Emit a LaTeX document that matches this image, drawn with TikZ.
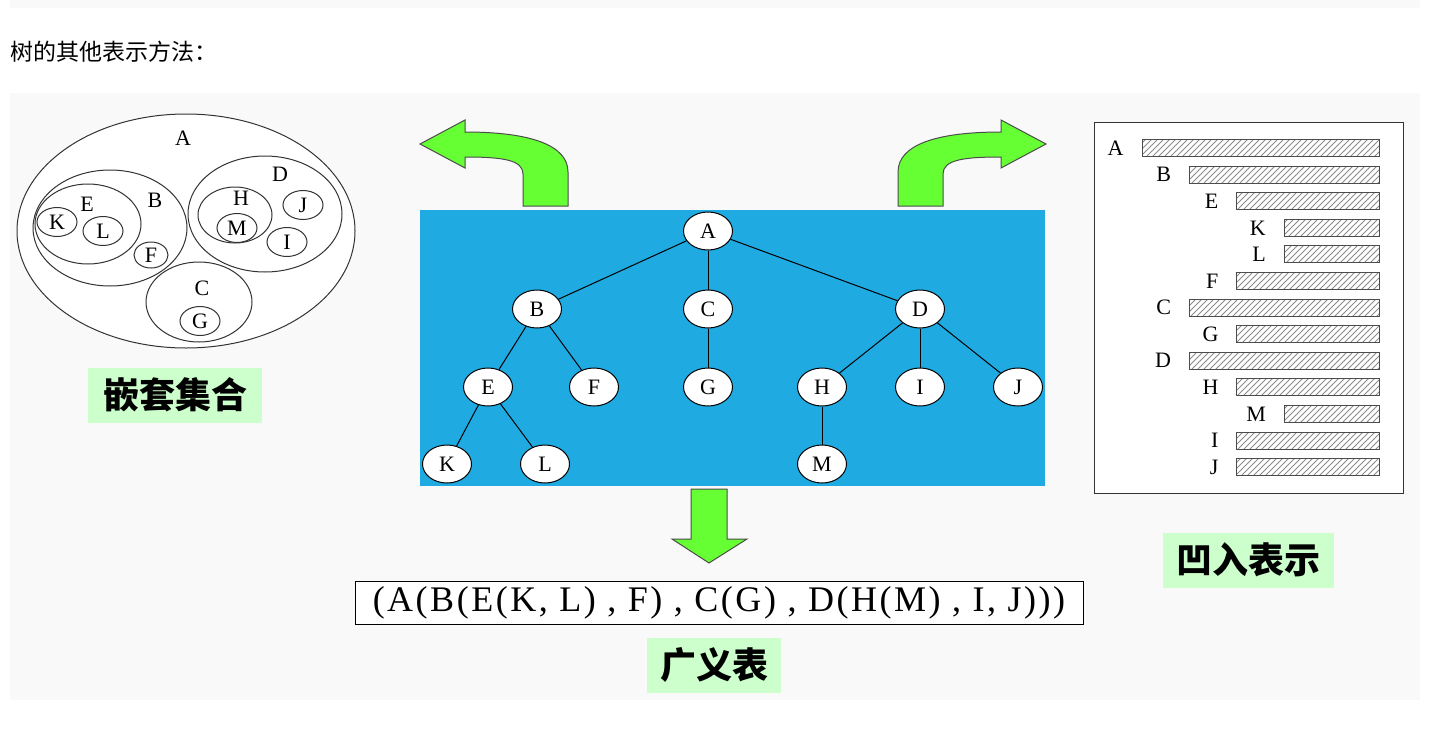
\documentclass[tikz,border=0pt]{standalone}
\usepackage{fontspec}
\setmainfont{Liberation Serif}
\newfontfamily\cjk{Noto Sans CJK SC}
\usetikzlibrary{shapes.geometric,patterns}
\definecolor{slidebg}{RGB}{249,249,249}
\definecolor{panelblue}{RGB}{31,171,226}
\definecolor{arrowgreen}{RGB}{102,255,51}
\definecolor{tagbg}{RGB}{204,255,204}

\begin{document}
\begin{tikzpicture}[
      x=0.5pt, y=-0.5pt,
      letter/.style={font=\fontsize{11}{11}\selectfont, inner sep=0pt},
      setring/.style={draw=black!80, line width=0.5pt},
      leaf/.style={draw=black!80, ellipse, line width=0.5pt, minimum width=20pt, minimum height=14.5pt, inner sep=0pt, font=\fontsize{11}{11}\selectfont},
      tnode/.style={draw, ellipse, fill=white, line width=0.5pt, minimum width=24.5pt, minimum height=19pt, inner sep=0pt, font=\fontsize{11}{11}\selectfont},
      edge/.style={line width=0.5pt},
      bendarrow/.style={fill=arrowgreen, draw=black!70, line width=0.5pt},
      bar/.style={draw=black!70, line width=0.5pt, pattern=north east lines, pattern color=black!45},
      tag/.style={fill=tagbg, font=\cjk\bfseries\fontsize{18}{18}\selectfont, minimum width=87pt, minimum height=27.5pt, inner sep=0pt}
  ]
      \useasboundingbox (0,0) rectangle (1456,739);
      \fill[slidebg] (10,0) rectangle (1420,8);
      \fill[slidebg] (10,93) rectangle (1420,700);

      \node[anchor=west, inner sep=0pt, font=\cjk\fontsize{11.5}{11.5}\selectfont] (title) at (10,52) {树的其他表示方法：};

      % nested sets
      \filldraw[setring, fill=white] (186,231) ellipse [x radius=84.5pt, y radius=58.5pt];
      \draw[setring] (110,228) ellipse [x radius=38.5pt, y radius=29pt];
      \draw[setring] (88,224) ellipse [x radius=26.5pt, y radius=20pt];
      \draw[setring] (265,214) ellipse [x radius=38.5pt, y radius=29pt];
      \draw[setring] (235,215) ellipse [x radius=18.5pt, y radius=14pt];
      \draw[setring] (199,302) ellipse [x radius=26.5pt, y radius=20pt];
      \node[letter] (sA) at (183,138) {A};
      \node[letter] (sB) at (155,200) {B};
      \node[letter] (sE) at (87,204) {E};
      \node[letter] (sD) at (280,174) {D};
      \node[letter] (sH) at (241,198) {H};
      \node[letter] (sC) at (202,288) {C};
      \node[leaf] (sK) at (57,222) {K};
      \node[leaf] (sL) at (103,231) {L};
      \node[leaf, minimum width=17pt, minimum height=13pt] (sF) at (151,255) {F};
      \node[leaf] (sM) at (237,228) {M};
      \node[leaf] (sJ) at (303,205) {J};
      \node[leaf] (sI) at (287,242) {I};
      \node[leaf] (sG) at (200,321) {G};
      \node[tag] (nestlbl) at (175,395) {嵌套集合};

      % tree
      \fill[panelblue] (420,210) rectangle (1045,486);
      \node[tnode] (tA) at (708,231) {A};
      \node[tnode] (tB) at (537,309) {B};
      \node[tnode] (tC) at (708,309) {C};
      \node[tnode] (tD) at (920,309) {D};
      \node[tnode] (tE) at (488,387) {E};
      \node[tnode] (tF) at (594,387) {F};
      \node[tnode] (tG) at (708,387) {G};
      \node[tnode] (tH) at (822,387) {H};
      \node[tnode] (tI) at (920,387) {I};
      \node[tnode] (tJ) at (1018,387) {J};
      \node[tnode] (tK) at (447,464) {K};
      \node[tnode] (tL) at (545,464) {L};
      \node[tnode] (tM) at (822,464) {M};
      \foreach \p/\c in {A/B, A/C, A/D, B/E, B/F, C/G, D/H, D/I, D/J, E/K, E/L, H/M}
        \draw[edge] (t\p) -- (t\c);

      \filldraw[bendarrow] (568,206) -- (568,172) .. controls (568,145) and (530,132) .. (465,132)
        -- (465,120) -- (420,144) -- (465,168) -- (465,157)
        .. controls (503,157) and (523,160) .. (523,174) -- (523,206) -- cycle;
      \filldraw[bendarrow] (898,206) -- (898,172) .. controls (898,145) and (936,132) .. (1001,132)
        -- (1001,120) -- (1046,144) -- (1001,168) -- (1001,157)
        .. controls (963,157) and (943,160) .. (943,174) -- (943,206) -- cycle;
      \filldraw[bendarrow] (691,489) -- (727,489) -- (727,539) -- (747,539) -- (709,563)
        -- (672,539) -- (691,539) -- cycle;

      % generalized list
      \node[draw, fill=white, line width=0.5pt, minimum width=364pt, minimum height=21.5pt, inner sep=0pt,
        font=\addfontfeature{LetterSpace=7}\fontsize{18}{18}\selectfont] (glist) at (719,603)
        {(A(B(E(K, L) , F) , C(G) , D(H(M) , I, J)))};
      \node[tag, minimum width=67pt] (listlbl) at (714,665) {广义表};

      % indentation
      \filldraw[draw=black!80, fill=white, line width=0.5pt] (1094,122) rectangle (1403,493);
      \foreach \n/\lvl/\row in {A/0/0, B/1/1, E/2/2, K/3/3, L/3/4, F/2/5, C/1/6, G/2/7, D/1/8, H/2/9, M/3/10, I/2/11, J/2/12} {
        \pgfmathsetmacro\yy{148+\row*26.6}
        \pgfmathsetmacro\xl{1142+\lvl*47.4}
        \draw[bar] (\xl,\yy-8.5) rectangle (1379,\yy+8.5);
        \node[letter, anchor=east] (i\n) at (\xl-18,\yy) {\n};
      }
      \node[tag, minimum width=85.5pt] (indentlbl) at (1248,560) {凹入表示};
  \end{tikzpicture}
\end{document}
